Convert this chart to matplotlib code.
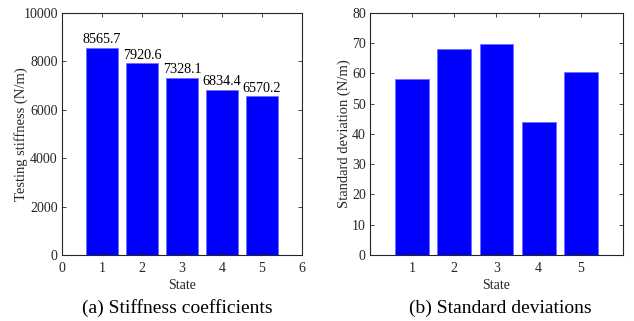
import matplotlib
matplotlib.use('Agg')
import matplotlib.pyplot as plt

plt.rcParams['font.family'] = ['Liberation Serif', 'DejaVu Serif']

# Data
states = [1, 2, 3, 4, 5]
stiffness = [8565.7, 7920.6, 7328.1, 6834.4, 6570.2]
std_dev = [58.2, 68.1, 69.9, 43.8, 60.5]

bar_color = '#0000ff'

fig = plt.figure(figsize=(6.34, 3.21), dpi=100)

# (a) stiffness
ax1 = fig.add_axes([0.0978, 0.2056, 0.3785, 0.754])
ax1.bar(states, stiffness, width=0.8, color=bar_color, edgecolor='#6f6fff', linewidth=0.6)
for x, v in zip(states, stiffness):
    ax1.text(x, v + 60, '%.1f' % v, ha='center', va='bottom', fontsize=10.2)
ax1.set_xlim(0, 6)
ax1.set_ylim(0, 10000)
ax1.set_xticks([0, 1, 2, 3, 4, 5, 6])
ax1.set_yticks([0, 2000, 4000, 6000, 8000, 10000])
ax1.set_ylabel('Testing stiffness (N/m)', fontsize=10.5, labelpad=-3.5)

# (b) standard deviations
ax2 = fig.add_axes([0.5836, 0.2056, 0.399, 0.754])
ax2.bar(states, std_dev, width=0.8, color=bar_color, edgecolor='#6f6fff', linewidth=0.6)
ax2.set_xlim(0, 6)
ax2.set_ylim(0, 80)
ax2.set_xticks(states)
ax2.set_yticks(range(0, 81, 10))
ax2.set_ylabel('Standard deviation (N/m)', fontsize=10.5, labelpad=0.5)

for ax in (ax1, ax2):
    ax.set_xlabel('State', fontsize=10, labelpad=3, color='#262626')
    ax.yaxis.label.set_color('#262626')
    ax.tick_params(direction='in', top=True, right=True, labelsize=10,
                   length=3, width=0.6, colors='#262626')
    ax.tick_params(axis='x', pad=5)
    ax.tick_params(axis='y', pad=3)
    for s in ax.spines.values():
        s.set_linewidth(0.8)
        s.set_color('#262626')

fig.text(0.28, 0.039, '(a) Stiffness coefficients', ha='center', va='center', fontsize=14)
fig.text(0.789, 0.039, '(b) Standard deviations', ha='center', va='center', fontsize=14)

fig.savefig('out.png', dpi=100)
